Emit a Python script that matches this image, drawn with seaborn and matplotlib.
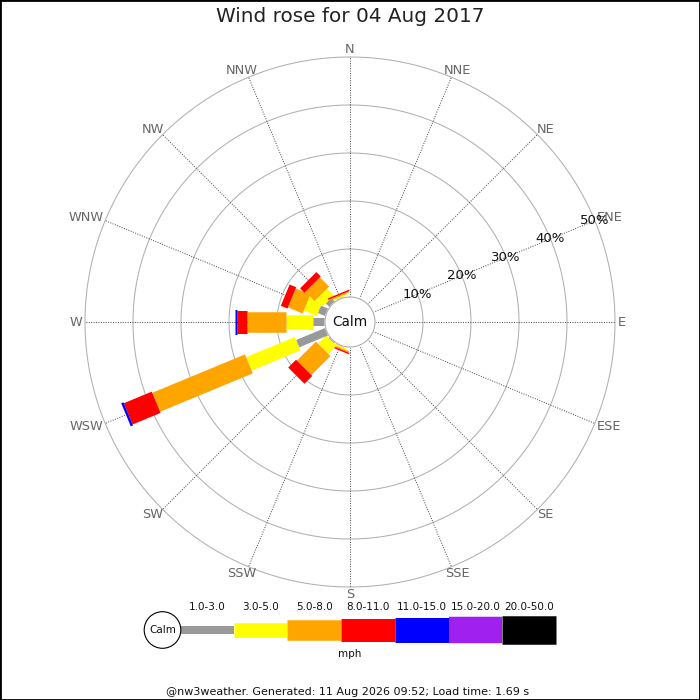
import numpy as np
import matplotlib
matplotlib.use("Agg")
import matplotlib.pyplot as plt
import seaborn as sns
from matplotlib.patches import Circle, Rectangle

# ---- data (percent of the day, per direction and speed band) ----
directions = ["N", "NNE", "NE", "ENE", "E", "ESE", "SE", "SSE",
              "S", "SSW", "SW", "WSW", "W", "WNW", "NW", "NNW"]
angles_deg = np.arange(16) * 22.5

speed_bands = ["1.0-3.0", "3.0-5.0", "5.0-8.0", "8.0-11.0",
               "11.0-15.0", "15.0-20.0", "20.0-50.0"]
band_colors = ["#999999", "#ffff00", "#ffa500", "#ff0000",
               "#0000ff", "#a020f0", "#000000"]
band_widths_px = [8, 14.5, 20.5, 23, 25, 26.5, 28.5]

#                 N  NNE NE ENE E ESE SE SSE S  SSW  SW   WSW   W    WNW  NW   NNW
pct_1_3   = [0, 0, 0, 0, 0, 0, 0, 0, 0, 0.2, 0.3, 6.6,  2.5, 1.7, 1.1, 0.2]
pct_3_5   = [0, 0, 0, 0, 0, 0, 0, 0, 0, 0.3, 2.4, 11.0, 5.6, 2.9, 2.0, 0.3]
pct_5_8   = [0, 0, 0, 0, 0, 0, 0, 0, 0, 0.3, 5.6, 20.9, 8.1, 3.3, 2.7, 0.3]
pct_8_11  = [0, 0, 0, 0, 0, 0, 0, 0, 0, 0.3, 2.3, 6.3,  2.2, 1.5, 1.3, 0.3]
pct_11_15 = [0, 0, 0, 0, 0, 0, 0, 0, 0, 0,   0,   0.5,  0.35, 0,  0,   0]
pct_15_20 = [0] * 16
pct_20_50 = [0] * 16
bands = [pct_1_3, pct_3_5, pct_5_8, pct_8_11, pct_11_15, pct_15_20, pct_20_50]

rings = [10, 20, 30, 40, 50]

title = "Wind rose for 04 Aug 2017"
footer = "@nw3weather. Generated: 11 Aug 2026 09:52; Load time: 1.69 s"

# ---- layout ----
sns.set_style("white")
PX = 4.8                 # pixels per percent
calm_r = 25 / PX         # radius of calm circle in percent units
rmax = calm_r + rings[-1]
PT = 0.72                # points per pixel at 100 dpi

fig = plt.figure(figsize=(7, 7), dpi=100)

# overlay axes in pixel coords, for legend and texts
ov = fig.add_axes([0, 0, 1, 1])
ov.set_xlim(0, 700)
ov.set_ylim(700, 0)
ov.axis("off")

rad = 265 / 700
ax = fig.add_axes([0.5 - rad, (700 - 322) / 700 - rad, 2 * rad, 2 * rad], projection="polar")
ax.set_theta_zero_location("N")
ax.set_theta_direction(-1)
ax.set_ylim(0, rmax)
ax.set_xticks([])
ax.set_yticks([])
ax.grid(False)
ax.spines["polar"].set_visible(False)
ax.patch.set_alpha(0)

full = np.linspace(0, 2 * np.pi, 400)
for ring in rings:
    ax.plot(full, np.full_like(full, calm_r + ring), color="#b0b0b0", lw=0.75,
            zorder=1, clip_on=False)

for a in angles_deg:
    th = np.deg2rad(a)
    ax.plot([th, th], [calm_r, rmax], color="#444444", lw=0.7, ls=(0, (1, 1.5)),
            zorder=1, clip_on=False)

# bars
for d, a in enumerate(angles_deg):
    th = np.deg2rad(a)
    base = calm_r
    for b, vals in enumerate(bands):
        v = vals[d]
        if v > 0:
            ax.plot([th, th], [base, base + v], color=band_colors[b],
                    lw=band_widths_px[b] * PT, solid_capstyle="butt", zorder=3)
            base += v

# calm circle
ax.fill(full, np.full_like(full, calm_r), color="white", zorder=4)
ax.plot(full, np.full_like(full, calm_r), color="#aaaaaa", lw=0.75, zorder=5)
ax.text(0, 0, "Calm", ha="center", va="center", fontsize=9.8, color="#111111", zorder=6)

# direction labels: pushed outward by half their size
fig.canvas.draw()
renderer = fig.canvas.get_renderer()
for name, a in zip(directions, angles_deg):
    th = np.deg2rad(a)
    t = ax.annotate(name, xy=(th, 268 / PX), xytext=(0, 0), textcoords="offset points",
                    ha="center", va="center", fontsize=9.3, color="#666666",
                    annotation_clip=False, zorder=6)
    w = t.get_window_extent(renderer).width
    t.xyann = ((w / 2) * np.sin(th) * PT, 4.5 * np.cos(th) * PT)

# percentage labels along ENE
for ring in rings:
    ax.text(np.deg2rad(67.5), calm_r + ring, f"{ring}%", ha="center", va="center",
            fontsize=9.5, color="#111111", clip_on=False, zorder=7)

# title
fig.text(0.5, 1 - 17 / 700, title, ha="center", va="center", fontsize=14.4, color="#222222")

# legend
x0, seg = 180, 53.7
for i, (lab, col, w) in enumerate(zip(speed_bands, band_colors, band_widths_px)):
    ov.plot([x0 + i * seg, x0 + (i + 1) * seg], [630, 630], color=col,
            lw=w * PT, solid_capstyle="butt")
    ov.text(x0 + (i + 0.5) * seg, 607, lab, ha="center", va="center", fontsize=7.5, color="#111111")
ov.add_patch(Circle((162.5, 630), 18.3, facecolor="white", edgecolor="black", lw=0.8, zorder=5))
ov.text(162.5, 630, "Calm", ha="center", va="center", fontsize=7.5, color="#111111", zorder=6)
ov.text(350, 654, "mph", ha="center", va="center", fontsize=7.5, color="#111111")
ov.text(348, 692, footer, ha="center", va="center", fontsize=8, color="#111111")

fig.patches.append(Rectangle((0, 0), 1, 1, transform=fig.transFigure, fill=False,
                             edgecolor="black", lw=2))

fig.savefig("out.png", dpi=100)
